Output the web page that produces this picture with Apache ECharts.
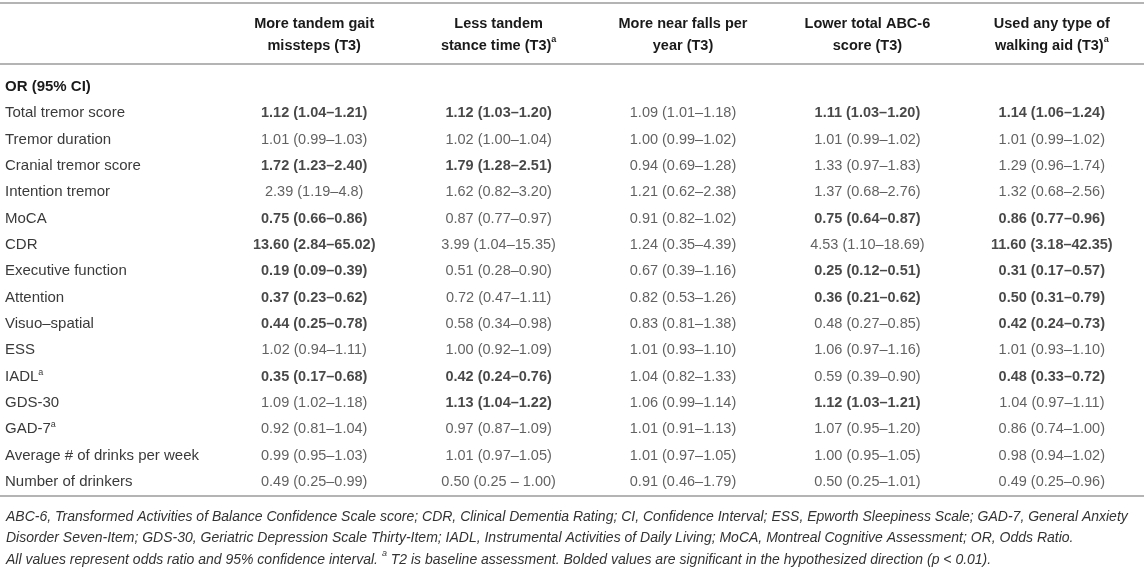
<!DOCTYPE html>
<html>
<head>
<meta charset="utf-8">
<script src="https://cdn.jsdelivr.net/npm/echarts@6/dist/echarts.min.js"></script>
<style>
  html, body { margin: 0; padding: 0; background: #fff; }
  #table { width: 1144px; height: 572px; }
</style>
</head>
<body>
<div id="table"></div>
<script>
// rows of the table (first row is the section heading)
var rowLabels = ['OR (95% CI)', 'Total tremor score', 'Tremor duration', 'Cranial tremor score',
    'Intention tremor', 'MoCA', 'CDR', 'Executive function', 'Attention', 'Visuo\u2013spatial',
    'ESS', 'IADL', 'GDS-30', 'GAD-7', 'Average # of drinks per week', 'Number of drinkers'];
var supRows = ['IADL', 'GAD-7'];

var colHeads = ['More tandem gait\nmissteps (T3)', 'Less tandem\nstance time (T3)',
    'More near falls per\nyear (T3)', 'Lower total ABC-6\nscore (T3)', 'Used any type of\nwalking aid (T3)'];
var supCols = [false, true, false, false, true];

var gaitMissteps = ['1.12 (1.04\u20131.21)', '1.01 (0.99\u20131.03)', '1.72 (1.23\u20132.40)', '2.39 (1.19\u20134.8)',
    '0.75 (0.66\u20130.86)', '13.60 (2.84\u201365.02)', '0.19 (0.09\u20130.39)', '0.37 (0.23\u20130.62)',
    '0.44 (0.25\u20130.78)', '1.02 (0.94\u20131.11)', '0.35 (0.17\u20130.68)', '1.09 (1.02\u20131.18)',
    '0.92 (0.81\u20131.04)', '0.99 (0.95\u20131.03)', '0.49 (0.25\u20130.99)'];
var gaitBold = [1, 0, 1, 0, 1, 1, 1, 1, 1, 0, 1, 0, 0, 0, 0];

var stanceTime = ['1.12 (1.03\u20131.20)', '1.02 (1.00\u20131.04)', '1.79 (1.28\u20132.51)', '1.62 (0.82\u20133.20)',
    '0.87 (0.77\u20130.97)', '3.99 (1.04\u201315.35)', '0.51 (0.28\u20130.90)', '0.72 (0.47\u20131.11)',
    '0.58 (0.34\u20130.98)', '1.00 (0.92\u20131.09)', '0.42 (0.24\u20130.76)', '1.13 (1.04\u20131.22)',
    '0.97 (0.87\u20131.09)', '1.01 (0.97\u20131.05)', '0.50 (0.25 \u2013 1.00)'];
var stanceBold = [1, 0, 1, 0, 0, 0, 0, 0, 0, 0, 1, 1, 0, 0, 0];

var nearFalls = ['1.09 (1.01\u20131.18)', '1.00 (0.99\u20131.02)', '0.94 (0.69\u20131.28)', '1.21 (0.62\u20132.38)',
    '0.91 (0.82\u20131.02)', '1.24 (0.35\u20134.39)', '0.67 (0.39\u20131.16)', '0.82 (0.53\u20131.26)',
    '0.83 (0.81\u20131.38)', '1.01 (0.93\u20131.10)', '1.04 (0.82\u20131.33)', '1.06 (0.99\u20131.14)',
    '1.01 (0.91\u20131.13)', '1.01 (0.97\u20131.05)', '0.91 (0.46\u20131.79)'];
var nearBold = [0, 0, 0, 0, 0, 0, 0, 0, 0, 0, 0, 0, 0, 0, 0];

var abcScore = ['1.11 (1.03\u20131.20)', '1.01 (0.99\u20131.02)', '1.33 (0.97\u20131.83)', '1.37 (0.68\u20132.76)',
    '0.75 (0.64\u20130.87)', '4.53 (1.10\u201318.69)', '0.25 (0.12\u20130.51)', '0.36 (0.21\u20130.62)',
    '0.48 (0.27\u20130.85)', '1.06 (0.97\u20131.16)', '0.59 (0.39\u20130.90)', '1.12 (1.03\u20131.21)',
    '1.07 (0.95\u20131.20)', '1.00 (0.95\u20131.05)', '0.50 (0.25\u20131.01)'];
var abcBold = [1, 0, 0, 0, 1, 0, 1, 1, 0, 0, 0, 1, 0, 0, 0];

var walkingAid = ['1.14 (1.06\u20131.24)', '1.01 (0.99\u20131.02)', '1.29 (0.96\u20131.74)', '1.32 (0.68\u20132.56)',
    '0.86 (0.77\u20130.96)', '11.60 (3.18\u201342.35)', '0.31 (0.17\u20130.57)', '0.50 (0.31\u20130.79)',
    '0.42 (0.24\u20130.73)', '1.01 (0.93\u20131.10)', '0.48 (0.33\u20130.72)', '1.04 (0.97\u20131.11)',
    '0.86 (0.74\u20131.00)', '0.98 (0.94\u20131.02)', '0.49 (0.25\u20130.96)'];
var aidBold = [1, 0, 0, 0, 1, 1, 1, 1, 1, 0, 1, 0, 0, 0, 0];

var footNotes = [
    'ABC-6, Transformed Activities of Balance Confidence Scale score; CDR, Clinical Dementia Rating; CI, Confidence Interval; ESS, Epworth Sleepiness Scale; GAD-7, General Anxiety',
    'Disorder Seven-Item; GDS-30, Geriatric Depression Scale Thirty-Item; IADL, Instrumental Activities of Daily Living; MoCA, Montreal Cognitive Assessment; OR, Odds Ratio.',
    'All values represent odds ratio and 95% confidence interval. {s|a} T2 is baseline assessment. Bolded values are significant in the hypothesized direction (p < 0.01).'
];

var columns = [gaitMissteps, stanceTime, nearFalls, abcScore, walkingAid];
var bolds = [gaitBold, stanceBold, nearBold, abcBold, aidBold];

var FONT = '"Liberation Sans", Arial, sans-serif';
var ruleColor = '#b4b4b4';

var dom = document.getElementById('table');
var myChart = echarts.init(dom);

var series = [];
for (let c = 0; c < columns.length; c++) {
    let data = [];
    for (let r = 0; r < columns[c].length; r++) {
        data.push({
            value: [c, rowLabels[r + 1]],
            cell: columns[c][r],
            label: {
                fontWeight: bolds[c][r] ? 'bold' : 'normal',
                color: bolds[c][r] ? '#1a1a1a' : '#3a3a3a'
            }
        });
    }
    series.push({
        type: 'scatter',
        symbolSize: 0,
        silent: true,
        data: data,
        label: {
            show: true,
            position: 'inside',
            fontFamily: FONT,
            fontSize: 14.5,
            formatter: function (p) { return p.data.cell; }
        }
    });
}

var option = {
    animation: false,
    backgroundColor: '#fff',
    grid: { left: 222, right: 0, top: 73.8, bottom: 76.8 },
    xAxis: {
        type: 'category',
        position: 'top',
        data: colHeads.map(function (h, i) { return i; }),
        axisLine: { show: false },
        axisTick: { show: false },
        splitLine: { show: false },
        axisLabel: {
            interval: 0,
            margin: 17,
            fontFamily: FONT,
            fontSize: 14.5,
            fontWeight: 'bold',
            lineHeight: 22,
            color: '#1a1a1a',
            formatter: function (v) {
                var i = +v;
                return colHeads[i] + (supCols[i] ? '{s|a}' : '');
            },
            rich: {
                s: { fontFamily: FONT, fontSize: 9, fontWeight: 'bold', color: '#1a1a1a', verticalAlign: 'top', lineHeight: 15 }
            }
        }
    },
    yAxis: {
        type: 'category',
        inverse: true,
        data: rowLabels,
        axisLine: { show: false },
        axisTick: { show: false },
        splitLine: { show: false },
        axisLabel: {
            interval: 0,
            align: 'left',
            margin: 217,
            fontFamily: FONT,
            fontSize: 15,
            color: '#3a3a3a',
            formatter: function (v, i) {
                if (i === 0) return '{h|' + v + '}';
                if (supRows.indexOf(v) >= 0) return '{n|' + v + '}{s|a}';
                return v;
            },
            rich: {
                h: { fontFamily: FONT, fontSize: 15, fontWeight: 'bold', color: '#1a1a1a' },
                n: { fontFamily: FONT, fontSize: 15, color: '#3a3a3a', lineHeight: 18 },
                s: { fontFamily: FONT, fontSize: 9, color: '#3a3a3a', verticalAlign: 'top', lineHeight: 12 }
            }
        }
    },
    title: {
        left: 1,
        top: 501,
        text: footNotes.join('\n'),
        textStyle: {
            fontFamily: FONT,
            fontSize: 14,
            fontStyle: 'italic',
            fontWeight: 'normal',
            color: '#333',
            lineHeight: 21.5,
            rich: {
                s: { fontFamily: FONT, fontSize: 9, fontStyle: 'italic', color: '#333', verticalAlign: 'top', lineHeight: 14 }
            }
        }
    },
    graphic: [
        { type: 'rect', shape: { x: 0, y: 2, width: 1144, height: 2 }, style: { fill: ruleColor } },
        { type: 'rect', shape: { x: 0, y: 63, width: 1144, height: 2 }, style: { fill: ruleColor } },
        { type: 'rect', shape: { x: 0, y: 495, width: 1144, height: 2 }, style: { fill: ruleColor } }
    ],
    series: series
};

if (option && typeof option === 'object') {
    myChart.setOption(option, true);
}
</script>
</body>
</html>
